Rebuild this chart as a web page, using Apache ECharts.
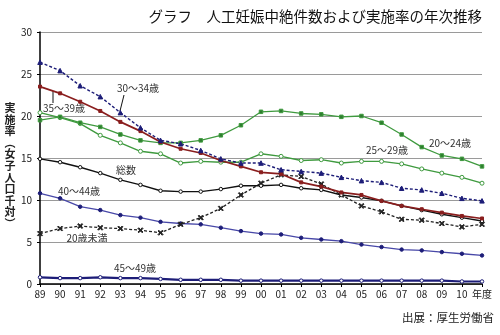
<!DOCTYPE html>
<html><head><meta charset="utf-8">
<script src="https://cdn.jsdelivr.net/npm/echarts@6/dist/echarts.min.js"></script>
<style>html,body{margin:0;padding:0;background:#fff}#c{width:500px;height:335px}</style>
</head><body><div id="c"></div>
<script>
const years = ['89','90','91','92','93','94','95','96','97','98','99','00','01','02','03','04','05','06','07','08','09','10','11'];
const xTickLabels = ['89','90','91','92','93','94','95','96','97','98','99','00','01','02','03','04','05','06','07','08','09','10','年度'];
const yTicks = [0,5,10,15,20,25,30];
const total  = [14.9,14.5,13.9,13.2,12.4,11.8,11.1,11.0,11.0,11.3,11.7,11.7,11.8,11.4,11.2,10.6,10.3,9.9,9.3,8.8,8.3,7.9,7.5];
const under20 = [6.0,6.6,6.9,6.7,6.6,6.4,6.1,7.1,7.9,9.0,10.6,12.0,13.0,12.8,11.9,10.6,9.3,8.6,7.7,7.6,7.2,6.8,7.1];
const a20_24 = [19.5,19.9,19.2,18.7,17.8,17.1,16.8,16.8,17.1,17.7,18.9,20.5,20.6,20.3,20.2,19.9,20.0,19.2,17.8,16.3,15.3,14.9,14.0];
const a25_29 = [20.4,19.8,19.1,17.7,16.8,15.8,15.5,14.4,14.6,14.5,14.5,15.5,15.2,14.7,14.8,14.4,14.6,14.6,14.3,13.7,13.2,12.7,12.0];
const a30_34 = [26.4,25.4,23.6,22.3,20.4,18.6,17.1,16.7,15.9,14.9,14.4,14.4,13.6,13.4,13.2,12.7,12.3,12.1,11.4,11.2,10.8,10.2,9.9];
const a35_39 = [23.5,22.7,21.7,20.6,19.3,18.2,16.9,16.1,15.6,14.7,14.0,13.3,13.1,12.1,11.6,10.9,10.6,9.9,9.3,8.9,8.5,8.1,7.8];
const a40_44 = [10.8,10.2,9.2,8.8,8.2,7.9,7.4,7.2,7.1,6.7,6.3,6.0,5.9,5.5,5.3,5.1,4.7,4.4,4.1,4.0,3.8,3.6,3.4];
const a45_49 = [0.8,0.7,0.7,0.8,0.7,0.7,0.6,0.5,0.5,0.5,0.4,0.4,0.4,0.4,0.4,0.4,0.4,0.4,0.4,0.4,0.4,0.3,0.3];

const FONT = '"Noto Sans CJK JP", "Noto Sans", sans-serif';
const NAVY = '#1d1d78', BLUE = '#4848a8', GREEN = '#3f9a3f', DGREEN = '#2e7d2e', RED = '#8a1e1e', BLACK = '#111';
const XSYM = 'path://M0,1.5L1.5,0L5,3.5L8.5,0L10,1.5L6.5,5L10,8.5L8.5,10L5,6.5L1.5,10L0,8.5L3.5,5Z';
const DASH = [3, 2];

function ser(name, data, color, type, symbol, size, fill, width, border) {
  return {
    name, type: 'line', data, symbol, symbolSize: size, showSymbol: true,
    lineStyle: { color, width: width || 1.3, type },
    itemStyle: { color: fill, borderColor: border || color, borderWidth: 1 },
    emphasis: { disabled: true }, animation: false
  };
}

const chart = echarts.init(document.getElementById('c'), null, { renderer: 'canvas' });
const txt = (x, y, s, extra) => ({ type: 'text', x, y, style: Object.assign({ text: s, fill: '#333', font: '10px ' + FONT, textAlign: 'center', textVerticalAlign: 'middle' }, extra || {}) });
chart.setOption({
  backgroundColor: '#fff',
  animation: false,
  textStyle: { fontFamily: FONT },
  grid: { left: 40, right: 18, top: 32, bottom: 51 },
  xAxis: {
    type: 'category', data: years, boundaryGap: false,
    axisLine: { lineStyle: { color: '#000', width: 1.5 } },
    axisTick: { show: true, length: 3, lineStyle: { color: '#000' } },
    axisLabel: { interval: 0, margin: 5, fontSize: 10, color: '#222', fontFamily: FONT,
      formatter: (v, i) => xTickLabels[i] },
    splitLine: { show: false }
  },
  yAxis: {
    type: 'value', min: yTicks[0], max: yTicks[yTicks.length - 1], interval: 5,
    axisLine: { show: true, lineStyle: { color: '#000', width: 1.5 } },
    axisTick: { show: true, length: 3, lineStyle: { color: '#000' } },
    axisLabel: { margin: 8, fontSize: 10, color: '#222', fontFamily: FONT },
    splitLine: { lineStyle: { color: '#9a9a9a', width: 1 } }
  },
  series: [
    ser('45～49歳', a45_49, NAVY, 'solid', 'circle', 3.5, '#fff', 2.2),
    ser('40～44歳', a40_44, BLUE, 'solid', 'circle', 3.5, NAVY, 1.3, NAVY),
    ser('20歳未満', under20, '#222', DASH, XSYM, 5, '#222', 1.3),
    ser('総数', total, BLACK, 'solid', 'circle', 3.5, '#fff', 1.4),
    ser('25～29歳', a25_29, GREEN, 'solid', 'circle', 4, '#fff', 1.4),
    ser('20～24歳', a20_24, GREEN, 'solid', 'rect', 3.5, DGREEN, 1.3),
    ser('35～39歳', a35_39, RED, 'solid', 'rect', 3, RED, 1.7),
    ser('30～34歳', a30_34, NAVY, DASH, 'triangle', 4.5, NAVY, 1.4)
  ],
  graphic: [
    txt(482, 16, 'グラフ　人工妊娠中絶件数および実施率の年次推移', { font: '14.5px ' + FONT, textAlign: 'right', fill: '#111' }),
    txt(494, 318, '出展：厚生労働省', { font: '11.5px ' + FONT, textAlign: 'right', fill: '#222' }),
    { type: 'text', x: 10, y: 102, style: { text: ['実','施','率','︵','女','子','人','口','千','対','︶'].join('\n'), font: 'bold 11px ' + FONT, lineHeight: 11.6, fill: '#222', textAlign: 'center' } },
    txt(138, 88, '30～34歳'),
    txt(64, 108, '35～39歳'),
    txt(126, 170, '総数'),
    txt(79, 191, '40～44歳'),
    txt(87, 238, '20歳未満'),
    txt(135, 268, '45～49歳'),
    txt(387, 150, '25～29歳'),
    txt(450, 143, '20～24歳'),
    { type: 'line', shape: { x1: 124, y1: 95, x2: 120, y2: 111 }, style: { stroke: '#111', lineWidth: 1 } },
    { type: 'line', shape: { x1: 53, y1: 103, x2: 53, y2: 91 }, style: { stroke: '#111', lineWidth: 1 } }
  ]
});
</script></body></html>
